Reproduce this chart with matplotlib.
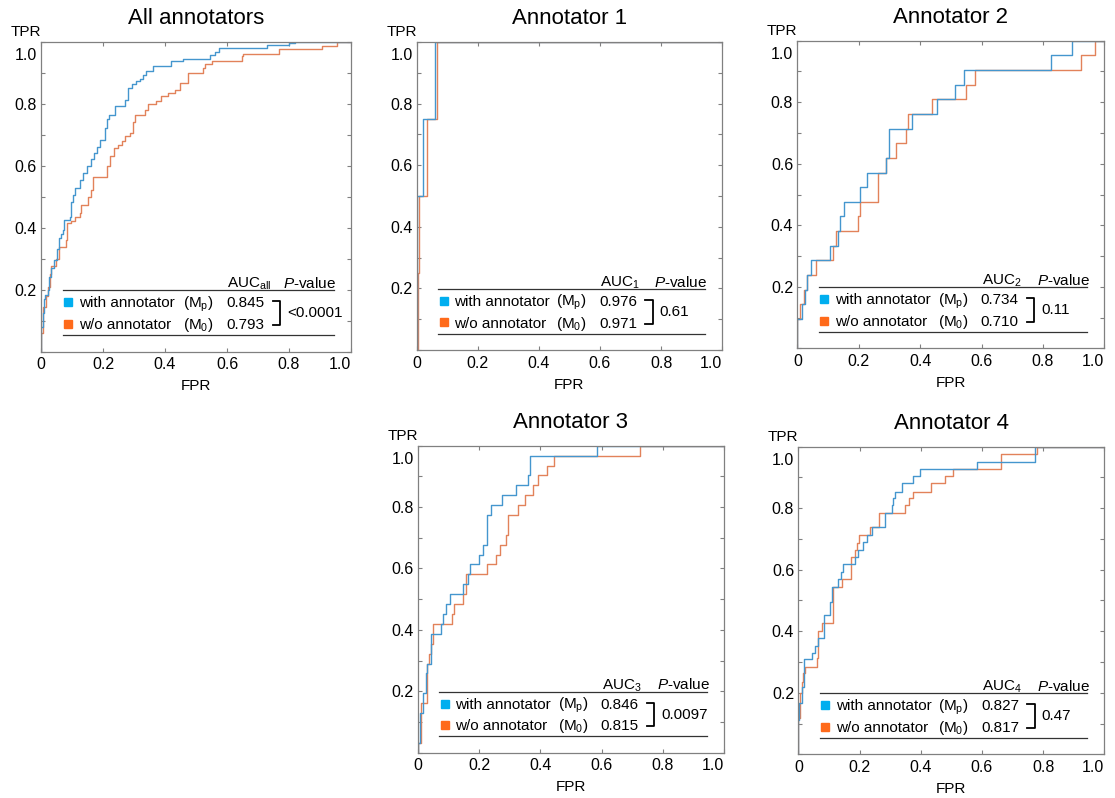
import numpy as np
import matplotlib.pyplot as plt
from matplotlib.ticker import MultipleLocator

plt.rcParams['font.family'] = ['Liberation Sans', 'DejaVu Sans']
plt.rcParams['mathtext.fontset'] = 'custom'
plt.rcParams['mathtext.rm'] = 'Liberation Sans'
plt.rcParams['mathtext.it'] = 'Liberation Sans:italic'

# Datos #######################################################################
titles     = ['All annotators', 'Annotator 1', 'Annotator 2', 'Annotator 3', 'Annotator 4']
auc_labels = [r'AUC$_\mathrm{all}$', r'AUC$_1$', r'AUC$_2$', r'AUC$_3$', r'AUC$_4$']
auc_mp     = [0.845, 0.976, 0.734, 0.846, 0.827]
auc_m0     = [0.793, 0.971, 0.710, 0.815, 0.817]
p_values   = ['<0.0001', '0.61', '0.11', '0.0097', '0.47']

# ROC (puntos donde sube la curva, se dibuja con steps-post)
fpr_all_mp = [0, 0, 0.006, 0.010, 0.014, 0.023, 0.027, 0.031, 0.042, 0.050, 0.057, 0.066, 0.071, 0.074,
              0.092, 0.098, 0.104, 0.109, 0.125, 0.137, 0.147, 0.160, 0.172, 0.180, 0.189, 0.205, 0.212,
              0.218, 0.240, 0.272, 0.281, 0.295, 0.307, 0.318, 0.330, 0.340, 0.361, 0.420, 0.458, 0.545,
              0.561, 0.574, 0.729, 0.800, 0.820, 1.0]
tpr_all_mp = [0, 0.08, 0.124, 0.170, 0.183, 0.200, 0.240, 0.269, 0.296, 0.330, 0.366, 0.380, 0.393, 0.425,
              0.436, 0.484, 0.505, 0.527, 0.554, 0.575, 0.600, 0.620, 0.640, 0.660, 0.684, 0.722, 0.750,
              0.765, 0.792, 0.813, 0.851, 0.862, 0.872, 0.880, 0.893, 0.905, 0.920, 0.937, 0.945, 0.958,
              0.967, 0.980, 0.990, 0.997, 1.0, 1.0]
fpr_all_m0 = [0, 0, 0.006, 0.015, 0.023, 0.028, 0.033, 0.049, 0.057, 0.082, 0.085, 0.098, 0.109, 0.125,
              0.130, 0.152, 0.160, 0.168, 0.212, 0.222, 0.235, 0.248, 0.260, 0.272, 0.286, 0.296, 0.302,
              0.334, 0.345, 0.370, 0.388, 0.410, 0.431, 0.448, 0.475, 0.524, 0.529, 0.551, 0.647, 0.652,
              0.769, 0.908, 0.954, 1.0]
tpr_all_m0 = [0, 0.06, 0.145, 0.180, 0.210, 0.250, 0.275, 0.300, 0.339, 0.360, 0.414, 0.420, 0.436, 0.446,
              0.473, 0.500, 0.520, 0.565, 0.600, 0.630, 0.657, 0.668, 0.680, 0.695, 0.706, 0.740, 0.763,
              0.781, 0.800, 0.810, 0.824, 0.835, 0.845, 0.867, 0.899, 0.915, 0.928, 0.939, 0.953, 0.960,
              0.977, 0.987, 1.0, 1.0]

fpr_a1_mp = [0, 0, 0.022, 0.059, 1.0]
tpr_a1_mp = [0, 0.5, 0.75, 1.0, 1.0]
fpr_a1_m0 = [0, 0.003, 0.006, 0.034, 0.068, 1.0]
tpr_a1_m0 = [0, 0.25, 0.5, 0.75, 1.0, 1.0]

fpr_a2_mp = [0, 0, 0.014, 0.025, 0.030, 0.044, 0.106, 0.134, 0.140, 0.152, 0.204, 0.228, 0.289, 0.299,
             0.375, 0.454, 0.514, 0.543, 0.828, 0.894, 1.0]
tpr_a2_mp = [0, 0.095, 0.143, 0.190, 0.238, 0.286, 0.333, 0.381, 0.429, 0.476, 0.524, 0.571, 0.619, 0.714,
             0.762, 0.810, 0.857, 0.905, 0.952, 1.0, 1.0]
fpr_a2_m0 = [0, 0, 0.009, 0.021, 0.030, 0.061, 0.115, 0.126, 0.197, 0.204, 0.264, 0.290, 0.321, 0.354,
             0.360, 0.438, 0.549, 0.579, 0.923, 0.970, 1.0]
tpr_a2_m0 = [0, 0.095, 0.143, 0.190, 0.238, 0.286, 0.333, 0.381, 0.429, 0.476, 0.571, 0.619, 0.667, 0.714,
             0.762, 0.810, 0.857, 0.905, 0.952, 1.0, 1.0]

fpr_a3_mp = [0, 0, 0.008, 0.016, 0.027, 0.032, 0.042, 0.045, 0.075, 0.083, 0.093, 0.105, 0.149, 0.165,
             0.172, 0.200, 0.212, 0.227, 0.238, 0.274, 0.320, 0.360, 0.366, 0.584, 1.0]
tpr_a3_mp = [0, 0.032, 0.129, 0.194, 0.258, 0.290, 0.323, 0.387, 0.419, 0.452, 0.484, 0.516, 0.548, 0.581,
             0.613, 0.645, 0.677, 0.774, 0.806, 0.839, 0.871, 0.903, 0.968, 1.0, 1.0]
fpr_a3_m0 = [0, 0, 0.010, 0.029, 0.032, 0.038, 0.045, 0.050, 0.111, 0.120, 0.149, 0.157, 0.225, 0.255,
             0.270, 0.288, 0.293, 0.328, 0.350, 0.375, 0.393, 0.423, 0.444, 0.725, 1.0]
tpr_a3_m0 = [0, 0.032, 0.161, 0.226, 0.290, 0.323, 0.355, 0.419, 0.452, 0.484, 0.516, 0.581, 0.613, 0.645,
             0.677, 0.710, 0.774, 0.806, 0.839, 0.871, 0.903, 0.935, 0.968, 1.0, 1.0]

fpr_a4_mp = [0, 0, 0.003, 0.011, 0.020, 0.044, 0.054, 0.065, 0.084, 0.103, 0.109, 0.131, 0.139, 0.147,
             0.185, 0.196, 0.212, 0.225, 0.240, 0.283, 0.305, 0.310, 0.316, 0.338, 0.374, 0.398, 0.583,
             0.773, 1.0]
tpr_a4_mp = [0, 0.110, 0.166, 0.220, 0.309, 0.330, 0.353, 0.377, 0.453, 0.496, 0.545, 0.569, 0.594, 0.618,
             0.642, 0.664, 0.691, 0.713, 0.738, 0.783, 0.810, 0.832, 0.854, 0.881, 0.905, 0.927, 0.949,
             1.0, 1.0]
fpr_a4_m0 = [0, 0, 0.005, 0.011, 0.016, 0.022, 0.060, 0.063, 0.065, 0.076, 0.112, 0.142, 0.171, 0.185,
             0.193, 0.198, 0.234, 0.265, 0.349, 0.363, 0.376, 0.434, 0.479, 0.504, 0.664, 0.781, 1.0]
tpr_a4_m0 = [0, 0.117, 0.198, 0.236, 0.263, 0.285, 0.312, 0.350, 0.402, 0.428, 0.545, 0.569, 0.642, 0.664,
             0.688, 0.713, 0.738, 0.783, 0.810, 0.832, 0.854, 0.881, 0.905, 0.927, 0.975, 1.0, 1.0]

curves_mp = [(fpr_all_mp, tpr_all_mp), (fpr_a1_mp, tpr_a1_mp), (fpr_a2_mp, tpr_a2_mp),
             (fpr_a3_mp, tpr_a3_mp), (fpr_a4_mp, tpr_a4_mp)]
curves_m0 = [(fpr_all_m0, tpr_all_m0), (fpr_a1_m0, tpr_a1_m0), (fpr_a2_m0, tpr_a2_m0),
             (fpr_a3_m0, tpr_a3_m0), (fpr_a4_m0, tpr_a4_m0)]

# Estilo ######################################################################
c_mp, c_m0 = '#4496ce', '#e2825a'       # curvas
q_mp, q_m0 = '#00aeef', '#ff6a1a'       # cuadraditos de la tabla
fs = 11

rects = [[0.0368, 0.5593, 0.2780, 0.3885],
         [0.3737, 0.5614, 0.2740, 0.3860],
         [0.7151, 0.5635, 0.2753, 0.3855],
         [0.3746, 0.0568, 0.2750, 0.3847],
         [0.7160, 0.0548, 0.2744, 0.3855]]

fig = plt.figure(figsize=(11.15, 7.98), dpi=100)


def tabla(ax, auc_lab, a1, a0, p):
    tr = ax.transAxes
    kw = dict(transform=tr, fontsize=fs)
    ax.plot([0.07, 0.945], [0.198, 0.198], color='#333333', lw=0.9, transform=tr)
    ax.plot([0.07, 0.945], [0.053, 0.053], color='#333333', lw=0.9, transform=tr)
    ax.text(0.60, 0.206, auc_lab, va='baseline', **kw)
    ax.text(0.952, 0.206, r'$\mathit{P}$-value', ha='right', va='baseline', **kw)
    for yb, ys, q, lab, m, v in [(0.143, 0.160, q_mp, 'with annotator', r'(M$_\mathrm{p}$)', a1),
                                 (0.073, 0.090, q_m0, 'w/o annotator', r'(M$_\mathrm{0}$)', a0)]:
        ax.plot([0.088], [ys], 's', ms=6, color=q, transform=tr)
        ax.text(0.123, yb, lab, va='baseline', **kw)
        ax.text(0.557, yb, m, ha='right', va='baseline', **kw)
        ax.text(0.597, yb, f'{v:.3f}', va='baseline', **kw)
    ax.plot([0.748, 0.772, 0.772, 0.748], [0.162, 0.162, 0.086, 0.086], color='k', lw=1.3, transform=tr)
    ax.text(0.795, 0.124, p, va='center', **kw)


for i, r in enumerate(rects):
    ax = fig.add_axes(r)
    ax.plot(*curves_m0[i], drawstyle='steps-post', color=c_m0, lw=1.0)
    ax.plot(*curves_mp[i], drawstyle='steps-post', color=c_mp, lw=1.0)
    ax.set_xlim(0, 1)
    ax.set_ylim(0, 1)

    ax.set_xticks([0, 0.2, 0.4, 0.6, 0.8, 1.0])
    ax.set_xticklabels(['0', '0.2', '0.4', '0.6', '0.8', '1.0'])
    ax.get_xticklabels()[-1].set_horizontalalignment('right')
    ax.set_yticks([0.2, 0.4, 0.6, 0.8, 1.0])
    ax.set_yticklabels(['0.2', '0.4', '0.6', '0.8', ''])
    ax.yaxis.set_minor_locator(MultipleLocator(0.1))
    ax.tick_params(which='both', direction='in', top=True, right=True, length=3,
                   width=0.8, color='#808080', labelsize=11.5)
    ax.tick_params(axis='x', pad=4)
    ax.tick_params(axis='y', pad=3)
    for s in ax.spines.values():
        s.set_color('#808080')
        s.set_linewidth(0.9)

    ax.annotate('1.0', xy=(0, 0.955), xycoords='axes fraction', xytext=(-3, 0),
                textcoords='offset points', ha='right', va='center', fontsize=11.5)
    ax.annotate('TPR', xy=(0, 1), xycoords='axes fraction', xytext=(0, 2),
                textcoords='offset points', ha='right', va='bottom', fontsize=fs)
    ax.annotate(titles[i], xy=(0.5, 1), xycoords='axes fraction', xytext=(0, 17),
                textcoords='offset points', ha='center', va='center', fontsize=16)
    ax.set_xlabel('FPR', fontsize=fs, labelpad=5)

    tabla(ax, auc_labels[i], auc_mp[i], auc_m0[i], p_values[i])

fig.savefig('out.png', dpi=100)
